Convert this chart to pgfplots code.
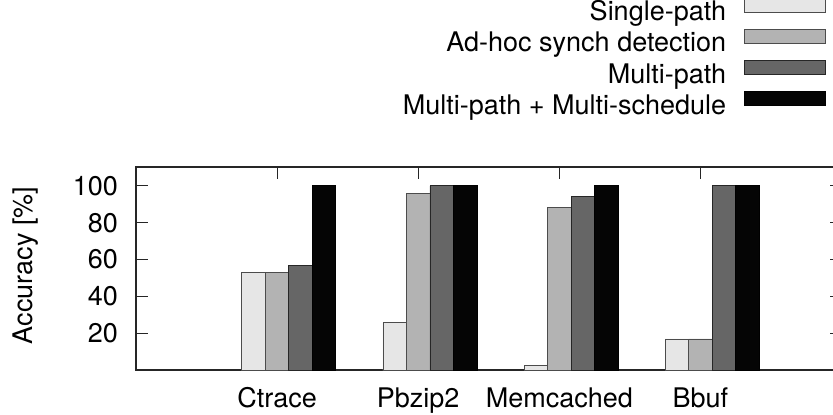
\documentclass[border=0pt]{standalone}
\usepackage{pgfplots}
\pgfplotsset{compat=1.18}
\usepackage{pgfplotstable}
\usepackage{fontspec}
\setmainfont{TeX Gyre Heros}
\definecolor{cA}{HTML}{E6E6E6}
\definecolor{cB}{HTML}{B3B3B3}
\definecolor{cC}{HTML}{666666}
\definecolor{cD}{HTML}{050505}
\pgfplotstableread{
x single adhoc multi multisched
1 53 53 57 100
2 26 96 100 100
3 2.5 88 94 100
4 17 17 100 100
}\datatable
\newcommand{\bigfont}{\fontsize{27}{31}\selectfont}
\begin{document}
\begin{tikzpicture}
\path[use as bounding box] (-136pt,-44.7pt) rectangle (697pt,370.3pt);
\begin{axis}[
 at={(0,0)}, anchor=south west,
 scale only axis, width=705.5pt, height=203pt,
 xmin=0, xmax=5, ymin=0, ymax=110,
 xtick={1,2,3,4}, xticklabels={Ctrace,Pbzip2,Memcached,Bbuf},
 xtick pos=right, xticklabel pos=left,
 ytick={20,40,60,80,100},
 ytick pos=both, yticklabel pos=left,
 /pgf/number format/assume math mode=true,
 tick align=inside,
 major tick length=12pt,
 tick style={line width=1.1pt, black!85},
 axis line style={line width=1.6pt, black!85},
 tick label style={font=\bigfont},
 label style={font=\bigfont},
 yticklabel style={anchor=east, inner sep=0pt, xshift=-18pt},
 xticklabel style={anchor=base, inner sep=0pt, yshift=-37.4pt},
 ylabel={Accuracy [\%]},
 ylabel style={at={(axis description cs:-0.147,0.516)}, anchor=base, inner sep=0pt},
 legend cell align=right,
 legend plot pos=right,
 legend image code/.code={\path (0pt,0pt); \draw[#1] (18pt,2.7pt) rectangle (99pt,16.7pt);},
 legend style={draw=none, fill=none, inner sep=0pt, outer sep=0pt,
   at={(axis description cs:0.978,1)}, anchor=south east, yshift=45.1pt,
   row sep=0pt, font=\bigfont, nodes={inner sep=0pt, outer sep=0pt, text height=20pt, text depth=8pt}},
]
\addplot[ybar, bar width=0.1667, bar shift=0pt, fill=cA, draw=black!70, line width=0.8pt] table[x expr=\thisrow{x}-0.1667, y=single] {\datatable};
\addlegendentry{Single-path}
\addplot[ybar, bar width=0.1667, bar shift=0pt, fill=cB, draw=black!70, line width=0.8pt] table[x expr=\thisrow{x}, y=adhoc] {\datatable};
\addlegendentry{Ad-hoc synch detection}
\addplot[ybar, bar width=0.1667, bar shift=0pt, fill=cC, draw=black!85, line width=0.8pt] table[x expr=\thisrow{x}+0.1667, y=multi] {\datatable};
\addlegendentry{Multi-path}
\addplot[ybar, bar width=0.1667, bar shift=0pt, fill=cD, draw=black, line width=0.8pt] table[x expr=\thisrow{x}+0.3333, y=multisched] {\datatable};
\addlegendentry{Multi-path + Multi-schedule}
\end{axis}
\end{tikzpicture}
\end{document}
